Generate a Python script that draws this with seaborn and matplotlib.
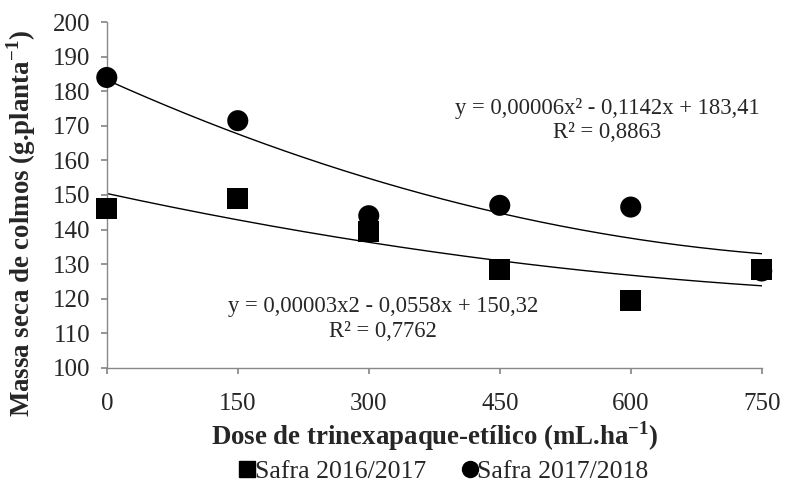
import numpy as np
import pandas as pd
import matplotlib
matplotlib.use("Agg")
import matplotlib.pyplot as plt
import seaborn as sns
from matplotlib.lines import Line2D

doses = [0, 150, 300, 450, 600, 750]
safra_2016 = [146, 149, 139.5, 128.5, 119.5, 128.5]
safra_2017 = [184, 171.5, 144, 147, 146.5, 128]
series_names = ["Safra 2016/2017", "Safra 2017/2018"]
eq_2016 = ["y = 0,00003x2 - 0,0558x + 150,32", "R² = 0,7762"]
eq_2017 = ["y = 0,00006x² - 0,1142x + 183,41", "R² = 0,8863"]
xticks = [0, 150, 300, 450, 600, 750]
yticks = [100, 110, 120, 130, 140, 150, 160, 170, 180, 190, 200]

sns.set_theme(style="white")
plt.rcParams["font.family"] = ["Liberation Serif", "DejaVu Serif"]
plt.rcParams["mathtext.fontset"] = "custom"
plt.rcParams["mathtext.rm"] = "Liberation Serif"
plt.rcParams["mathtext.bf"] = "Liberation Serif:bold"

# circles first so squares are drawn on top
df = pd.DataFrame({
    "dose": doses * 2,
    "massa": safra_2017 + safra_2016,
    "safra": [series_names[1]] * 6 + [series_names[0]] * 6,
})

fig = plt.figure(figsize=(7.91, 4.82), dpi=100)
ax = fig.add_axes([0.135, 0.237, 0.828, 0.717])

# trend lines (quadratic fits)
xs = np.linspace(0, 750, 200)
for vals in (safra_2016, safra_2017):
    coef = np.polyfit(doses, vals, 2)
    sns.lineplot(x=xs, y=np.polyval(coef, xs), ax=ax, color="black", lw=1.0, zorder=2)

sns.scatterplot(data=df, x="dose", y="massa", hue="safra", style="safra",
                markers={series_names[0]: "s", series_names[1]: "o"},
                palette={series_names[0]: "black", series_names[1]: "black"},
                s=230, edgecolor="none", ax=ax, zorder=3, legend=False)

ax.set_xlim(0, 750)
ax.set_ylim(100, 200)
ax.set_xticks(xticks)
ax.set_yticks(yticks)
ax.tick_params(axis="both", labelsize=18, length=4, color="#888888", direction="out",
               bottom=True, left=True)
ax.tick_params(axis="x", pad=14)
ax.tick_params(axis="y", pad=8)
for s in ["top", "right"]:
    ax.spines[s].set_visible(False)
for s in ["left", "bottom"]:
    ax.spines[s].set_color("#888888")
    ax.spines[s].set_linewidth(1.0)
for c in ax.collections:
    c.set_clip_on(False)

ax.set_xlabel("Dose de trinexapaque-etílico (mL.ha$^{\\mathbf{-1}}$)", fontsize=19.4,
              fontweight="bold", labelpad=3)
ax.set_ylabel("Massa seca de colmos (g.planta$^{\\mathbf{-1}}$)", fontsize=19.4,
              fontweight="bold")
ax.yaxis.set_label_coords(-0.105, 0.416)

ax.text(573, 175.1, eq_2017[0], fontsize=16.3, ha="center", va="center")
ax.text(573, 168.2, eq_2017[1], fontsize=16.3, ha="center", va="center")
ax.text(316, 117.6, eq_2016[0], fontsize=16.3, ha="center", va="center")
ax.text(316, 110.4, eq_2016[1], fontsize=16.3, ha="center", va="center")

handles = [Line2D([], [], marker="s", color="black", ls="none", markersize=11.5),
           Line2D([], [], marker="o", color="black", ls="none", markersize=11.5)]
fig.legend(handles, series_names, loc="center", bbox_to_anchor=(0.558, 0.022),
           ncol=2, frameon=False, fontsize=18.5, handletextpad=-0.2,
           columnspacing=1.2, handlelength=1.0, borderpad=0.1)

fig.savefig("out.png", dpi=100)
